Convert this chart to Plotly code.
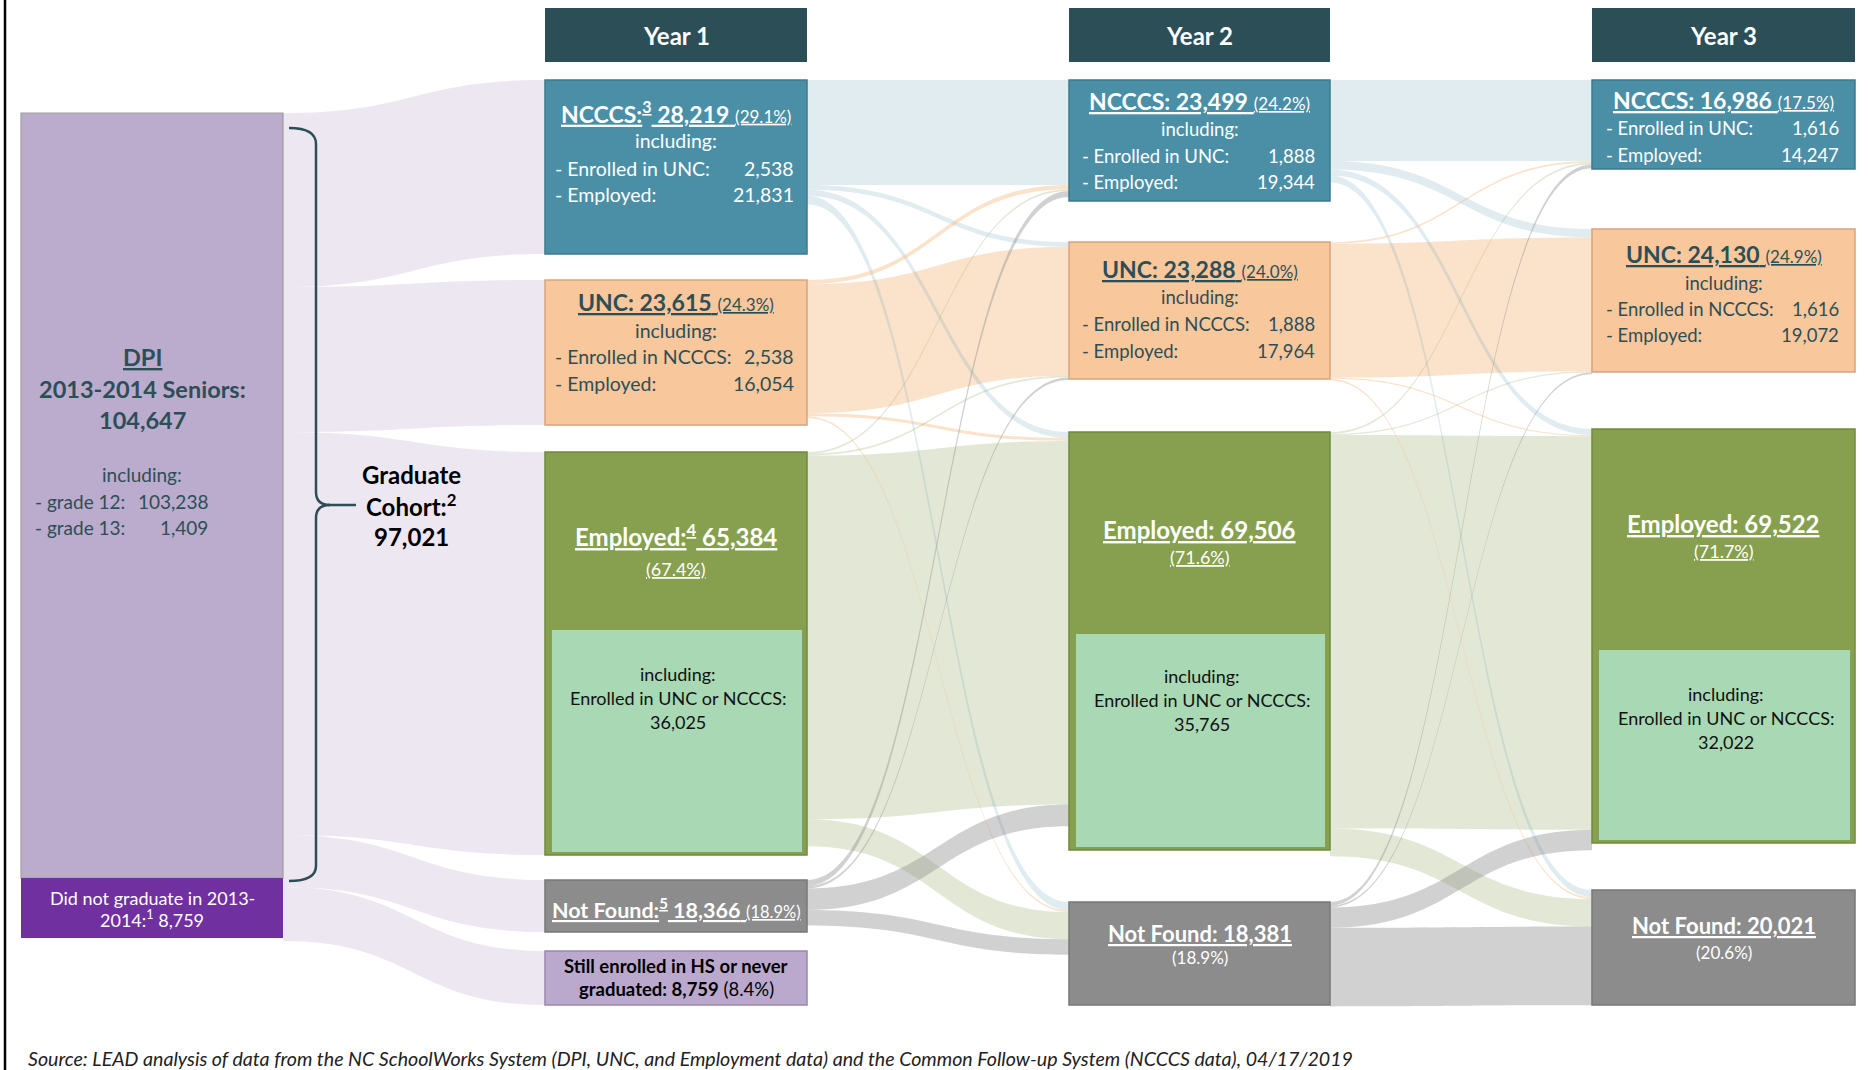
import plotly.graph_objects as go

# ---------------- data ----------------
years = ["Year 1", "Year 2", "Year 3"]
categories = ["NCCCS", "UNC", "Employed", "Not Found"]
year1_counts = [28219, 23615, 65384, 18366]
year2_counts = [23499, 23288, 69506, 18381]
year3_counts = [16986, 24130, 69522, 20021]
year1_pct = [29.1, 24.3, 67.4, 18.9]
year2_pct = [24.2, 24.0, 71.6, 18.9]
year3_pct = [17.5, 24.9, 71.7, 20.6]
enrolled_both = [2538, 1888, 1616]          # enrolled in both UNC and NCCCS
ncccs_employed = [21831, 19344, 14247]
unc_employed = [16054, 17964, 19072]
employed_enrolled = [36025, 35765, 32022]
dpi_grades = ["grade 12", "grade 13"]
dpi_grade_counts = [103238, 1409]
dpi_total = 104647
not_graduated = 8759
graduate_cohort = 97021
still_enrolled = 8759
still_enrolled_pct = 8.4
# estimated transitions (students), rows = from, cols = to, order of categories
flows_y1_y2 = [
    [17500, 800, 1000, 1400],
    [700, 21500, 500, 300],
    [300, 300, 60600, 4500],
    [1000, 400, 3600, 2600],
]
flows_y2_y3 = [
    [13500, 1400, 1000, 1200],
    [300, 22300, 200, 300],
    [300, 200, 65600, 4600],
    [600, 300, 3400, 13100],
]
source_note = ("Source: LEAD analysis of data from the NC SchoolWorks System (DPI, UNC, and Employment data) "
               "and the Common Follow-up System (NCCCS data), 04/17/2019")

# ---------------- layout / style ----------------
W, H = 1869, 1070
FONT = "Lato"
K = 0.006  # px per student for ribbons
TEAL = "#2C4F57"
fill = ["#4A8FA6", "#F9C79C", "#87A050", "#8C8C8C"]
border = ["#3B7B90", "#D9A47D", "#6E8A3C", "#777777"]
flow_col = ["rgba(74,143,166,0.17)", "rgba(247,190,140,0.45)",
            "rgba(135,160,80,0.24)", "rgba(140,140,140,0.40)"]
LAV_FLOW = "rgba(187,168,205,0.28)"
INNER = "#A9D8B4"
ROW = [19.5, 18.5, 18.5]

col_x = [(545, 807), (1069, 1330), (1592, 1855)]
box_y = [
    [(80, 254), (280, 425), (452, 855), (880, 932)],
    [(80, 201), (242, 379), (432, 850), (902, 1005)],
    [(80, 169), (229, 372), (429, 843), (890, 1005)],
]
inner_top = [630, 634, 650]
still_y = (951, 1005)
dpi_x = (21, 283)
dpi_y = (113, 878)
purple_y = (878, 938)
header_y = (8, 62)

shapes = []
annotations = []


def rect(x0, y0, x1, y1, fc, lc=None, lw=0):
    shapes.append(dict(type="rect", xref="x", yref="y", x0=x0, x1=x1, y0=y0, y1=y1,
                       fillcolor=fc, line=dict(color=lc or fc, width=lw), layer="above"))


def ribbon(x0, y0, t0, x1, y1, t1, color):
    xm = (x0 + x1) / 2
    p = (f"M {x0},{y0} C {xm},{y0} {xm},{y1} {x1},{y1} "
         f"L {x1},{y1 + t1} C {xm},{y1 + t1} {xm},{y0 + t0} {x0},{y0 + t0} Z")
    shapes.append(dict(type="path", xref="x", yref="y", path=p, fillcolor=color,
                       line=dict(width=0), layer="above"))


def txt(x, y, s, size, color, anchor="center", under=False, italic=False):
    f = dict(family=FONT, size=size, color=color)
    if under:
        f["lineposition"] = "under"
    if italic:
        f["style"] = "italic"
    annotations.append(dict(x=x, y=y, xref="x", yref="y", text=s, showarrow=False,
                            xanchor=anchor, yanchor="middle", font=f))


# ---- DPI -> Year 1 ribbons
y1_targets = box_y[0] + [still_y]
ys = dpi_y[0]
for (t0, t1) in y1_targets:
    h = t1 - t0
    ribbon(dpi_x[1], ys, h, col_x[0][0], t0, h, LAV_FLOW)
    ys += h

# ---- year transitions
for ti, flows in enumerate([flows_y1_y2, flows_y2_y3]):
    src, tgt = box_y[ti], box_y[ti + 1]
    x0, x1 = col_x[ti][1], col_x[ti + 1][0]
    spos, tpos = {}, {}
    for i in range(4):
        y = src[i][0]
        for j in range(4):
            spos[(i, j)] = y
            y += flows[i][j] * K
    for j in range(4):
        y = tgt[j][0]
        for i in range(4):
            tpos[(i, j)] = y
            y += flows[i][j] * K
    order = [(i, i) for i in range(4)] + [(i, j) for i in range(4) for j in range(4) if i != j]
    for (i, j) in order:
        t = flows[i][j] * K
        ribbon(x0, spos[(i, j)], t, x1, tpos[(i, j)], t, flow_col[i])

# ---- headers
for c, name in enumerate(years):
    rect(col_x[c][0], header_y[0], col_x[c][1], header_y[1], TEAL)
    txt((col_x[c][0] + col_x[c][1]) / 2, 35, f"<b>{name}</b>", 24, "white")

# ---- DPI box
rect(dpi_x[0], dpi_y[0], dpi_x[1], dpi_y[1], "#BBABCD", "#9E9E9E", 1.2)
rect(dpi_x[0], purple_y[0], dpi_x[1], purple_y[1], "#7030A0")
dcx = 142
txt(dcx, 357, "<b>DPI</b>", 23.5, TEAL, under=True)
txt(dcx, 389, "<b>2013-2014 Seniors:</b>", 23.5, TEAL)
txt(dcx, 420, f"<b>{dpi_total:,}</b>", 23.5, TEAL)
txt(dcx, 474, "including:", 19, TEAL)
for k, (g, v) in enumerate(zip(dpi_grades, dpi_grade_counts)):
    txt(33, 501 + 26 * k, f"- {g}:", 19, TEAL, anchor="left")
    txt(210, 501 + 26 * k, f"{v:,}", 19, TEAL, anchor="right")
pcx = (dpi_x[0] + dpi_x[1]) / 2
txt(pcx, 898, "Did not graduate in 2013-", 18, "white")
txt(pcx, 919, f"2014:<sup>1</sup> {not_graduated:,}", 18, "white")

# brace
shapes.append(dict(type="path", xref="x", yref="y",
                   path="M 289,128 Q 316,128 316,144 L 316,492 Q 316,505 330,505 "
                        "Q 316,505 316,518 L 316,866 Q 316,881 289,881",
                   line=dict(color=TEAL, width=2.5), layer="above"))
shapes.append(dict(type="line", xref="x", yref="y", x0=328, x1=356, y0=505, y1=505,
                   line=dict(color=TEAL, width=2.5), layer="above"))
txt(411, 474, "<b>Graduate</b>", 24, "black")
txt(411, 505, "<b>Cohort:<sup>2</sup></b>", 24, "black")
txt(411, 536, f"<b>{graduate_cohort:,}</b>", 24, "black")

# ---- year boxes
counts = [year1_counts, year2_counts, year3_counts]
pcts = [year1_pct, year2_pct, year3_pct]
sup = [["3", "", "4", "5"], ["", "", "", ""], ["", "", "", ""]]
for c in range(3):
    xa, xb = col_x[c]
    for i in range(4):
        y0, y1 = box_y[c][i]
        rect(xa, y0, xb, y1, fill[i], border[i], 1.5)
    y0, y1 = box_y[c][2]
    rect(xa + 7, inner_top[c], xb - 5, y1 - 3, INNER)

cx = [(a + b) / 2 for a, b in col_x]
lx = [553, 1080, 1604]
rx = [796, 1317, 1841]


def title(c, i, pct_inline=True, psize=17):
    s = f"<b>{categories[i]}:"
    if sup[c][i]:
        s += f"<sup>{sup[c][i]}</sup>"
    s += f" {counts[c][i]:,}</b>"
    if pct_inline:
        s += f" <span style='font-size:{psize}px'>({pcts[c][i]:.1f}%)</span>"
    return s


# NCCCS
ncccs_y = [(112, 140.6, 168, 194), (101, 129, 156, 182), (100, None, 127.5, 155)]
for c in range(3):
    ty, iy, r1, r2 = ncccs_y[c]
    rs = ROW[c]
    txt(cx[c], ty, title(c, 0), 23, "white", under=True)
    if iy:
        txt(cx[c], iy, "including:", rs, "white")
    txt(lx[c], r1, "- Enrolled in UNC:", rs, "white", anchor="left")
    txt(rx[c], r1, f"{enrolled_both[c]:,}", rs, "white", anchor="right")
    txt(lx[c], r2, "- Employed:", rs, "white", anchor="left")
    txt(rx[c], r2, f"{ncccs_employed[c]:,}", rs, "white", anchor="right")

# UNC
unc_y = [(301.6, 330, 356, 383), (269, 297, 324, 350.5), (254, 282.5, 309, 335)]
for c in range(3):
    ty, iy, r1, r2 = unc_y[c]
    rs = ROW[c]
    txt(cx[c], ty, title(c, 1), 23, TEAL, under=True)
    txt(cx[c], iy, "including:", rs, TEAL)
    txt(lx[c], r1, "- Enrolled in NCCCS:", rs, TEAL, anchor="left")
    txt(rx[c], r1, f"{enrolled_both[c]:,}", rs, TEAL, anchor="right")
    txt(lx[c], r2, "- Employed:", rs, TEAL, anchor="left")
    txt(rx[c], r2, f"{unc_employed[c]:,}", rs, TEAL, anchor="right")

# Employed
emp_y = [(535, 568.6, 673.5), (529, 557, 676), (523, 551, 694)]
for c in range(3):
    ty, py, iy = emp_y[c]
    txt(cx[c], ty, title(c, 2, pct_inline=False), 24, "white", under=True)
    txt(cx[c], py, f"({pcts[c][2]:.1f}%)", 18, "white", under=True)
    txt(cx[c] + 2, iy, "including:", 18, "#111111")
    txt(cx[c] + 2, iy + 24, "Enrolled in UNC or NCCCS:", 18, "#111111")
    txt(cx[c] + 2, iy + 48, f"{employed_enrolled[c]:,}", 18, "#111111")

# Not Found
txt(cx[0], 908, title(0, 3, psize=16.5), 21.5, "white", under=True)
nf_y = [None, (933, 957), (925, 952)]
for c in (1, 2):
    ty, py = nf_y[c]
    txt(cx[c], ty, title(c, 3, pct_inline=False), 22, "white", under=True)
    txt(cx[c], py, f"({pcts[c][3]:.1f}%)", 17, "white")

# Still enrolled
rect(col_x[0][0], still_y[0], col_x[0][1], still_y[1], "#BBA9CD", "#9A86B0", 1.5)
txt(cx[0], 965.5, "<b>Still enrolled in HS or never</b>", 18.5, "black")
txt(cx[0], 989, f"<b>graduated: {still_enrolled:,}</b> ({still_enrolled_pct:.1f}%)", 18.5, "black")

# left frame line
shapes.append(dict(type="line", xref="x", yref="y", x0=5, x1=5, y0=0, y1=H,
                   line=dict(color="black", width=2.5), layer="above"))

txt(26, 1058.5, source_note, 19.6, "#222222", anchor="left", italic=True)

fig = go.Figure()
fig.add_trace(go.Scatter(x=[0, W], y=[0, H], mode="markers", marker=dict(opacity=0),
                         hoverinfo="skip", showlegend=False))
fig.update_layout(
    width=W, height=H, margin=dict(l=0, r=0, t=0, b=0),
    paper_bgcolor="white", plot_bgcolor="white",
    xaxis=dict(range=[0, W], visible=False, fixedrange=True),
    yaxis=dict(range=[H, 0], visible=False, fixedrange=True),
    shapes=shapes, annotations=annotations, showlegend=False,
)
fig.write_html("out.html", config={"displayModeBar": False},
               post_script="document.body.style.margin='0';document.body.style.overflow='hidden';")
